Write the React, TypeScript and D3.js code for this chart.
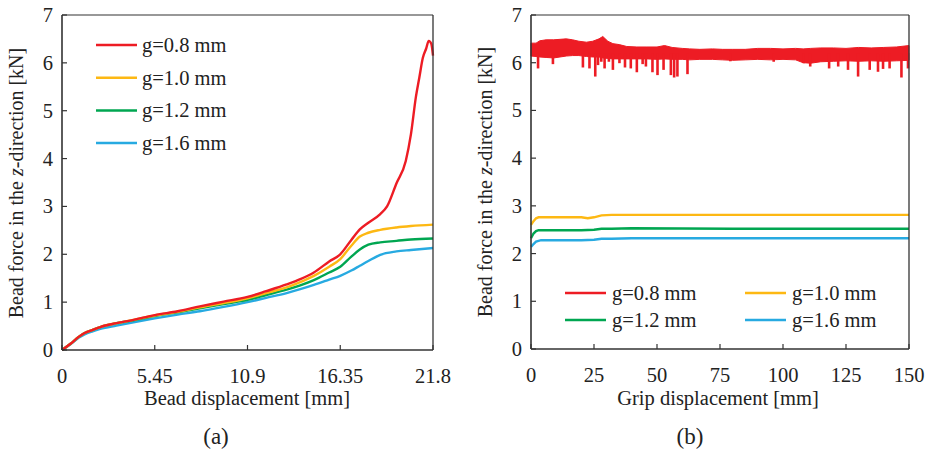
import React from 'react';
import * as d3 from 'd3';

// ---------- data: panel (a) ----------
const aRedX = [0, 0.5, 1.0, 1.3, 1.8, 2.25, 3.2, 4.2, 5.45, 6.8, 8.1, 9.5, 10.9, 12.0, 13.2, 14.0, 14.8, 15.7, 16.35, 17.0, 17.5, 18.0, 18.7, 19.1, 19.65, 20.2, 20.5, 20.8, 21.0, 21.2, 21.4, 21.55, 21.7, 21.8];
const aRedY = [0, 0.13, 0.28, 0.35, 0.42, 0.48, 0.56, 0.63, 0.73, 0.81, 0.91, 1.01, 1.11, 1.23, 1.37, 1.48, 1.62, 1.85, 2.0, 2.3, 2.52, 2.66, 2.84, 3.0, 3.48, 3.95, 4.5, 5.3, 5.7, 6.1, 6.3, 6.46, 6.4, 6.15];
const aX = [0, 0.5, 1.0, 1.3, 1.8, 2.25, 3.2, 4.2, 5.45, 6.8, 8.1, 9.5, 10.9, 12.0, 13.2, 14.0, 14.8, 15.7, 16.35, 17.0, 17.5, 18.0, 18.7, 19.65, 20.5, 21.8];
const aYellowY = [0, 0.13, 0.28, 0.35, 0.42, 0.48, 0.56, 0.63, 0.72, 0.8, 0.89, 0.98, 1.08, 1.19, 1.31, 1.42, 1.55, 1.74, 1.9, 2.18, 2.37, 2.45, 2.51, 2.56, 2.59, 2.62];
const aGreenY = [0, 0.13, 0.28, 0.35, 0.42, 0.48, 0.56, 0.62, 0.71, 0.79, 0.87, 0.96, 1.05, 1.15, 1.26, 1.35, 1.46, 1.62, 1.74, 1.95, 2.1, 2.2, 2.25, 2.28, 2.31, 2.33];
const aBlueY = [0, 0.12, 0.26, 0.32, 0.39, 0.44, 0.51, 0.58, 0.66, 0.74, 0.81, 0.9, 1.0, 1.09, 1.19, 1.27, 1.36, 1.47, 1.55, 1.66, 1.76, 1.86, 1.99, 2.06, 2.09, 2.13];
const aXTicks = [0, 5.45, 10.9, 16.35, 21.8];

// ---------- data: panel (b) ----------
const bYellowX = [0, 1, 2, 3, 10, 20, 22.5, 25, 28, 32, 40, 60, 90, 120, 150];
const bYellowY = [2.6, 2.68, 2.74, 2.76, 2.76, 2.76, 2.74, 2.76, 2.8, 2.81, 2.81, 2.81, 2.81, 2.81, 2.81];
const bGreenX = [0, 1, 2, 3, 10, 20, 25, 28, 32, 40, 80, 150];
const bGreenY = [2.32, 2.42, 2.47, 2.49, 2.49, 2.49, 2.5, 2.52, 2.52, 2.53, 2.52, 2.52];
const bBlueX = [0, 1, 2, 4, 10, 20, 25, 28, 32, 40, 150];
const bBlueY = [2.14, 2.2, 2.25, 2.28, 2.28, 2.28, 2.29, 2.31, 2.31, 2.32, 2.32];
// red noisy signal: band envelope + downward spikes
const bRedX = [0, 2, 3.5, 6, 9, 11.5, 14, 16.5, 19, 22, 24.5, 27, 28.5, 30.5, 32.5, 35, 38, 42, 46, 50, 53, 56, 60, 63, 67, 72, 76, 80, 85, 90, 95, 100, 105, 108, 111, 115, 120, 125, 130, 135, 140, 145, 150];
const bRedUpper = [6.41, 6.41, 6.46, 6.48, 6.48, 6.49, 6.50, 6.48, 6.45, 6.43, 6.45, 6.50, 6.55, 6.45, 6.40, 6.38, 6.34, 6.33, 6.33, 6.33, 6.36, 6.32, 6.30, 6.29, 6.28, 6.29, 6.28, 6.28, 6.28, 6.30, 6.30, 6.29, 6.30, 6.29, 6.30, 6.31, 6.31, 6.30, 6.32, 6.31, 6.32, 6.33, 6.36];
const bRedLower = [6.14, 6.13, 6.12, 6.11, 6.10, 6.12, 6.14, 6.15, 6.15, 6.13, 6.12, 6.12, 6.10, 6.09, 6.08, 6.08, 6.08, 6.08, 6.08, 6.07, 6.08, 6.07, 6.07, 6.06, 6.07, 6.07, 6.06, 6.05, 6.06, 6.07, 6.06, 6.07, 6.06, 6.00, 5.99, 6.02, 6.03, 6.04, 6.03, 6.04, 6.03, 6.04, 6.05];
const bRedDipX = [2.8, 8.7, 20.6, 23.2, 25.5, 26.6, 27.9, 29.2, 30.9, 32.5, 35.1, 37.3, 39.6, 42.0, 44.3, 45.6, 48.2, 50.2, 52.6, 55.5, 56.8, 58.1, 62.1, 79.1, 96.3, 108.2, 110.8, 118.3, 121.9, 125.8, 129.8, 134.4, 137.7, 139.7, 142.3, 147.0, 149.6];
const bRedDipMin = [5.88, 5.97, 5.9, 5.88, 5.71, 5.95, 6.02, 5.88, 6.02, 5.85, 5.99, 5.9, 5.88, 5.8, 5.97, 5.92, 5.8, 5.74, 5.85, 5.74, 5.69, 5.71, 5.76, 6.03, 6.02, 5.99, 5.92, 5.88, 5.92, 5.85, 5.71, 5.85, 5.81, 5.87, 5.88, 5.69, 5.88];
const bXTicks = [0, 25, 50, 75, 100, 125, 150];

const yTicks = [0, 1, 2, 3, 4, 5, 6, 7];
const legendLabels = ['g=0.8 mm', 'g=1.0 mm', 'g=1.2 mm', 'g=1.6 mm'];
const colors = ['#ED1C24', '#FDB813', '#00A651', '#27AAE1'];

const FONT = '"Liberation Serif", "Times New Roman", serif';
const AXIS = '#333';

function Frame({ x, y, xTicks, xFmt }: any) {
  const [x0, x1] = x.range();
  const [y1, y0] = y.range();
  return (
    <g>
      {yTicks.map((t) => (
        <g key={'y' + t}>
          <line x1={x0} x2={x0 + 5} y1={y(t)} y2={y(t)} stroke={AXIS} strokeWidth={1.2} />
          <text x={x0 - 9} y={y(t) + 7} textAnchor="end" fontSize={20.5} fontFamily={FONT} fill="#222">{t}</text>
        </g>
      ))}
      {xTicks.map((t: number) => (
        <g key={'x' + t}>
          <line x1={x(t)} x2={x(t)} y1={y1} y2={y1 - 5} stroke={AXIS} strokeWidth={1.2} />
          <text x={x(t)} y={y1 + 33} textAnchor="middle" fontSize={20.5} fontFamily={FONT} fill="#222">{xFmt(t)}</text>
        </g>
      ))}
      <line x1={x0} x2={x1} y1={y0} y2={y0} stroke={AXIS} strokeWidth={1.1} />
      <line x1={x1} x2={x1} y1={y0} y2={y1} stroke={AXIS} strokeWidth={1.3} />
      <line x1={x0} x2={x0} y1={y0} y2={y1} stroke={AXIS} strokeWidth={1.6} />
      <line x1={x0} x2={x1} y1={y1} y2={y1} stroke={AXIS} strokeWidth={1.6} />
    </g>
  );
}

function YTitle({ cx, cy }: any) {
  return (
    <text transform={`translate(${cx},${cy}) rotate(-90)`} textAnchor="middle" fontSize={20} fontFamily={FONT} fill="#222" dy={7}>
      Bead force in the <tspan fontStyle="italic">z</tspan>-direction [kN]
    </text>
  );
}

export default function App() {
  // panel a
  const ax = d3.scaleLinear().domain([0, 21.8]).range([62, 433]);
  const ay = d3.scaleLinear().domain([0, 7]).range([350, 15]);
  const aLine = (xs: number[], ys: number[]) =>
    d3.line<number>().x((_, i) => ax(xs[i])).y((d) => ay(d)).curve(d3.curveMonotoneX)(ys) || '';
  const aSeries = [
    { xs: aRedX, ys: aRedY },
    { xs: aX, ys: aYellowY },
    { xs: aX, ys: aGreenY },
    { xs: aX, ys: aBlueY },
  ];

  // panel b
  const bx = d3.scaleLinear().domain([0, 150]).range([531, 909]);
  const by = d3.scaleLinear().domain([0, 7]).range([349, 15]);
  const bLine = (xs: number[], ys: number[]) =>
    d3.line<number>().x((_, i) => bx(xs[i])).y((d) => by(d)).curve(d3.curveLinear)(ys) || '';
  const redArea =
    d3.area<number>().x((_, i) => bx(bRedX[i])).y0((_, i) => by(bRedLower[i])).y1((d) => by(d)).curve(d3.curveLinear)(bRedUpper) || '';

  const aLegY = [45, 77.7, 110.4, 143];
  const bLegPos = [
    [565, 293],
    [745, 293],
    [565, 320],
    [745, 320],
  ];

  return (
    <svg width={930} height={453} style={{ position: 'absolute', left: 0, top: 0, background: '#fff' }}>
      <rect x={0} y={0} width={930} height={453} fill="#fff" />
      {/* ---------- panel (a) ---------- */}
      {aSeries.map((s, i) => (
        <path key={'a' + i} d={aLine(s.xs, s.ys)} fill="none" stroke={colors[i]} strokeWidth={2.4} strokeLinejoin="round" />
      )).reverse()}
      <Frame x={ax} y={ay} xTicks={aXTicks} xFmt={(t: number) => String(t)} />
      {legendLabels.map((l, i) => (
        <g key={'al' + i}>
          <line x1={96} x2={137} y1={aLegY[i]} y2={aLegY[i]} stroke={colors[i]} strokeWidth={2.5} />
          <text x={142} y={aLegY[i] + 7} fontSize={20.5} fontFamily={FONT} fill="#222">{l}</text>
        </g>
      ))}
      <YTitle cx={16} cy={183} />
      <text x={247} y={405} textAnchor="middle" fontSize={20.5} fontFamily={FONT} fill="#222">Bead displacement [mm]</text>
      <text x={216} y={444} textAnchor="middle" fontSize={23} fontFamily={FONT} fill="#222">(a)</text>

      {/* ---------- panel (b) ---------- */}
      <path d={redArea} fill={colors[0]} stroke={colors[0]} strokeWidth={1} />
      {bRedDipX.map((x, i) => (
        <line key={'dip' + i} x1={bx(x)} x2={bx(x)} y1={by(6.2)} y2={by(bRedDipMin[i])} stroke={colors[0]} strokeWidth={2.6} />
      ))}
      <path d={bLine(bYellowX, bYellowY)} fill="none" stroke={colors[1]} strokeWidth={2.4} />
      <path d={bLine(bGreenX, bGreenY)} fill="none" stroke={colors[2]} strokeWidth={2.4} />
      <path d={bLine(bBlueX, bBlueY)} fill="none" stroke={colors[3]} strokeWidth={2.4} />
      <Frame x={bx} y={by} xTicks={bXTicks} xFmt={(t: number) => String(t)} />
      {legendLabels.map((l, i) => (
        <g key={'bl' + i}>
          <line x1={bLegPos[i][0]} x2={bLegPos[i][0] + 41} y1={bLegPos[i][1]} y2={bLegPos[i][1]} stroke={colors[i]} strokeWidth={2.5} />
          <text x={bLegPos[i][0] + 47} y={bLegPos[i][1] + 7} fontSize={20.5} fontFamily={FONT} fill="#222">{l}</text>
        </g>
      ))}
      <YTitle cx={485} cy={182} />
      <text x={718} y={405} textAnchor="middle" fontSize={20.5} fontFamily={FONT} fill="#222">Grip displacement [mm]</text>
      <text x={690} y={444} textAnchor="middle" fontSize={23} fontFamily={FONT} fill="#222">(b)</text>
    </svg>
  );
}
